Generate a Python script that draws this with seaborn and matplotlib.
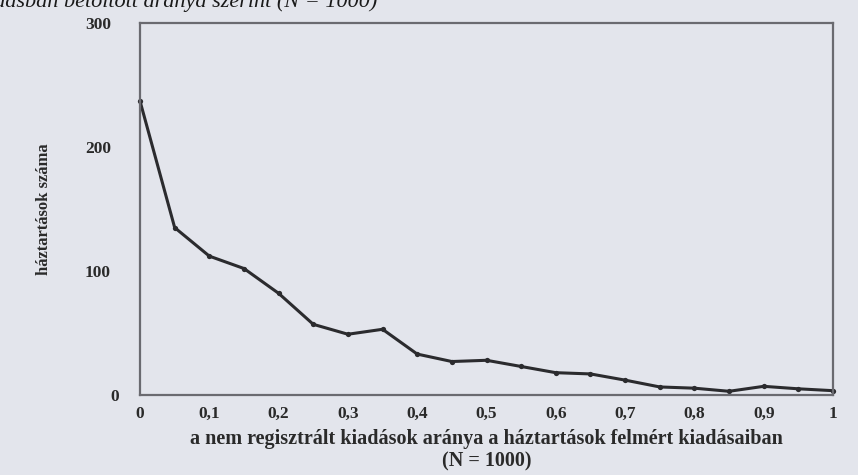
import matplotlib
matplotlib.use("Agg")
import matplotlib.pyplot as plt
import seaborn as sns
import pandas as pd

shares = [0.0, 0.05, 0.1, 0.15, 0.2, 0.25, 0.3, 0.35, 0.4, 0.45, 0.5,
          0.55, 0.6, 0.65, 0.7, 0.75, 0.8, 0.85, 0.9, 0.95, 1.0]
households = [237, 135, 112, 102, 82, 57, 49, 53, 33, 27, 28,
              23, 18, 17, 12, 6.5, 5.5, 3, 7, 5, 3.5]
xticks = [0, 0.1, 0.2, 0.3, 0.4, 0.5, 0.6, 0.7, 0.8, 0.9, 1.0]
xtick_labels = ["0", "0,1", "0,2", "0,3", "0,4", "0,5", "0,6", "0,7", "0,8", "0,9", "1"]
yticks = [0, 100, 200, 300]
ytick_labels = ["0", "100", "200", "300"]

df = pd.DataFrame({"share": shares, "households": households})

sns.set_theme(style="white")
plt.rcParams["font.family"] = ["Liberation Serif", "DejaVu Serif"]

bg = "#e3e5ec"
fig = plt.figure(figsize=(8.58, 4.75), dpi=100, facecolor=bg)
ax = fig.add_axes([0.1632, 0.1684, 0.8077, 0.7832])
ax.set_facecolor(bg)

sns.lineplot(data=df, x="share", y="households", ax=ax, color="#2b2b2e",
             linewidth=2.2, marker="o", markersize=3.8, markeredgewidth=0,
             clip_on=False)

ax.set_xlim(0, 1)
ax.set_ylim(0, 300)
ax.set_xticks(xticks)
ax.set_xticklabels(xtick_labels, fontsize=12.5, fontweight="bold", color="#2a2a2a")
ax.set_yticks(yticks)
ax.set_yticklabels(ytick_labels, fontsize=12.5, fontweight="bold", color="#2a2a2a")
ax.tick_params(axis="x", length=0, pad=8)
ax.tick_params(axis="y", length=0, pad=21)
for lbl in ax.get_yticklabels():
    if lbl.get_text() == "0":
        lbl.set_x(0.012)
        lbl.set_y(-0.006)

for s in ax.spines.values():
    s.set_color("#6a6a70")
    s.set_linewidth(1.6)
    s.set_visible(True)

ax.set_ylabel("háztartások száma", fontsize=12, fontweight="bold",
              color="#2a2a2a", labelpad=24)
ax.set_xlabel("a nem regisztrált kiadások aránya a háztartások felmért kiadásaiban\n(N = 1000)",
              fontsize=14.5, fontweight="bold", color="#2a2a2a", labelpad=5,
              linespacing=1.15)

fig.text(0.44, 0.995, "kiadásban betöltött aránya szerint (N = 1000)",
         ha="right", va="center", fontsize=16, style="italic", color="#1a1a1a")

fig.savefig("out.png", dpi=100, facecolor=bg)
